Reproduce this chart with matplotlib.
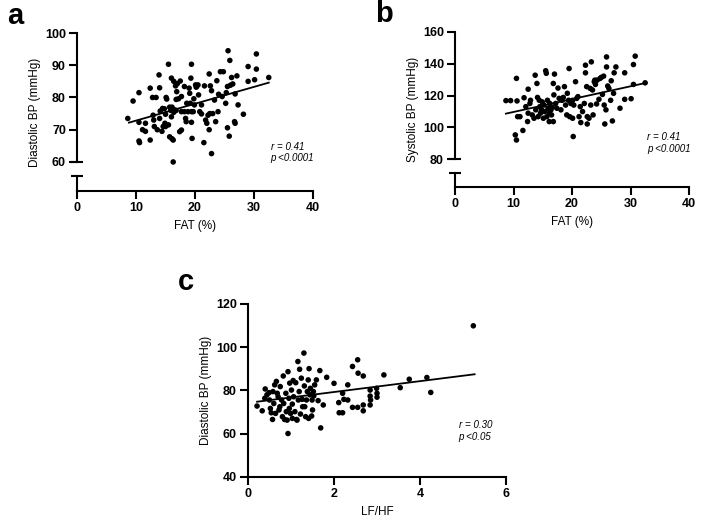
import matplotlib
matplotlib.use('Agg')
import matplotlib.pyplot as plt
import numpy as np

plt.rcParams['font.family'] = ['Liberation Sans', 'DejaVu Sans']

# panel a: body fat vs diastolic BP
fat_a = [8.6, 9.5, 10.5, 10.5, 10.5, 10.6, 11.1, 11.6, 11.6, 12.4, 12.4, 12.8, 12.9, 13.1,
         13.4, 13.6, 13.9, 14.0, 14.0, 14.1, 14.4, 14.5, 14.6, 14.9, 15.0, 15.1, 15.2, 15.5,
         15.7, 15.7, 15.9, 16.0, 16.1, 16.1, 16.3, 16.3, 16.4, 16.4, 16.5, 16.7, 16.8, 16.9,
         17.0, 17.2, 17.4, 17.5, 17.7, 17.7, 18.2, 18.4, 18.6, 18.8, 19.0, 19.1, 19.2, 19.3,
         19.4, 19.4, 19.5, 19.7, 19.8, 19.9, 20.1, 20.2, 20.5, 20.6, 20.8, 21.1, 21.1, 21.5,
         21.6, 21.8, 22.0, 22.2, 22.4, 22.4, 22.6, 22.8, 22.8, 23.0, 23.3, 23.5, 23.7, 23.9,
         24.0, 24.3, 24.6, 24.8, 25.2, 25.3, 25.5, 25.5, 25.6, 25.8, 25.9, 26.0, 26.2, 26.4,
         26.7, 26.8, 26.8, 27.1, 27.3, 28.2, 29.0, 29.0, 30.1, 30.4, 30.4, 32.5,
         16.8, 17.7, 18.2, 18.5, 19.4, 15.0, 15.5, 16.0, 13.0, 14.8, 20.3, 22.5]
dbp_a = [73.5, 78.9, 81.5, 72.3, 66.5, 66.0, 70.0, 69.5, 72.0, 82.9, 66.8, 80.0, 74.5, 71.0,
         80.0, 70.0, 87.0, 83.0, 73.5, 75.8, 69.5, 76.6, 71.0, 72.0, 74.8, 80.0, 79.5, 90.3,
         77.0, 67.8, 76.0, 86.0, 67.2, 77.0, 60.0, 66.8, 85.0, 75.4, 76.2, 83.6, 79.4, 81.8,
         84.3, 79.6, 69.4, 85.1, 69.9, 80.3, 83.4, 73.5, 78.2, 75.6, 82.9, 81.3, 78.2, 86.0,
         72.3, 90.3, 67.3, 75.6, 79.6, 77.7, 83.9, 83.2, 83.9, 80.8, 75.6, 77.7, 74.9, 66.0,
         83.6, 73.0, 72.0, 74.5, 87.3, 70.0, 83.6, 82.1, 62.6, 75.0, 79.2, 72.5, 85.2, 75.6,
         81.0, 88.0, 80.3, 88.0, 78.2, 81.5, 83.4, 70.6, 94.5, 68.0, 91.5, 83.8, 86.2, 84.2,
         72.5, 72.0, 81.1, 86.7, 77.7, 74.8, 89.6, 85.0, 85.5, 93.5, 88.8, 86.2,
         76.0, 75.6, 75.6, 72.5, 75.6, 71.0, 71.5, 74.0, 73.0, 76.5, 83.5, 75.0]
fit_a_x = [8.8, 32.5]
fit_a_y = [72.2, 84.6]

# panel b: body fat vs systolic BP
fat_b = [8.7, 9.5, 10.3, 10.5, 10.5, 10.6, 10.7, 11.1, 11.6, 11.8, 12.1, 12.4, 12.5, 12.5,
         12.8, 12.9, 13.2, 13.5, 13.7, 13.8, 14.0, 14.1, 14.2, 14.4, 14.5, 14.6, 14.8, 14.9,
         15.1, 15.2, 15.3, 15.5, 15.6, 15.7, 15.8, 15.9, 16.1, 16.1, 16.2, 16.4, 16.5, 16.6,
         16.8, 16.8, 16.9, 17.0, 17.2, 17.4, 17.6, 17.8, 18.1, 18.3, 18.5, 18.7, 18.9, 19.1,
         19.2, 19.4, 19.5, 19.6, 19.8, 20.1, 20.1, 20.2, 20.3, 20.6, 20.8, 21.0, 21.2, 21.4,
         21.5, 21.8, 22.1, 22.3, 22.3, 22.5, 22.6, 22.6, 22.9, 23.1, 23.2, 23.3, 23.5, 23.6,
         23.8, 23.9, 24.0, 24.2, 24.3, 24.6, 24.8, 25.0, 25.2, 25.4, 25.5, 25.6, 25.8, 25.9,
         25.9, 26.1, 26.3, 26.6, 26.7, 26.9, 27.1, 27.2, 27.5, 28.2, 29.0, 29.0, 30.1, 30.5,
         30.5, 30.8, 32.5]
sbp_b = [116.8, 116.8, 95.2, 92.0, 130.8, 116.6, 106.7, 106.7, 98.0, 118.6, 113.0, 103.6,
         124.0, 108.9, 115.0, 117.0, 107.8, 105.7, 132.8, 111.0, 127.6, 118.8, 106.7, 117.0,
         113.0, 108.9, 111.0, 116.0, 105.7, 114.0, 109.9, 135.6, 134.0, 106.7, 117.0, 112.0,
         108.9, 103.6, 115.0, 111.0, 107.8, 112.6, 103.6, 127.6, 120.4, 133.5, 115.0, 112.0,
         124.7, 118.2, 111.0, 117.0, 118.8, 125.6, 114.0, 107.8, 121.4, 117.0, 137.0, 106.7,
         115.0, 117.0, 105.7, 94.2, 114.0, 128.7, 118.2, 119.3, 106.7, 113.0, 103.0, 109.9,
         115.0, 139.1, 134.3, 125.6, 106.7, 102.1, 105.7, 124.5, 114.0, 141.2, 123.5, 107.8,
         128.7, 129.7, 127.0, 114.7, 129.7, 117.6, 130.8, 131.4, 120.7, 132.2, 114.0, 102.1,
         111.0, 144.3, 138.0, 126.0, 124.5, 117.0, 129.3, 104.0, 121.4, 134.3, 138.0, 112.0,
         134.3, 117.6, 118.0, 139.5, 127.0, 144.8, 128.0]
fit_b_x = [8.7, 32.7]
fit_b_y = [108.6, 128.0]

# panel c: LF/HF ratio vs diastolic BP
lfhf_c = [0.21, 0.33, 0.39, 0.40, 0.44, 0.49, 0.50, 0.52, 0.54, 0.57, 0.58, 0.60, 0.62, 0.64,
          0.66, 0.68, 0.70, 0.72, 0.74, 0.75, 0.78, 0.80, 0.82, 0.83, 0.85, 0.88, 0.89, 0.91,
          0.93, 0.93, 0.95, 0.96, 0.97, 0.99, 1.01, 1.03, 1.03, 1.05, 1.06, 1.09, 1.11, 1.13,
          1.14, 1.16, 1.17, 1.19, 1.20, 1.22, 1.24, 1.26, 1.27, 1.30, 1.31, 1.32, 1.34, 1.36,
          1.38, 1.40, 1.41, 1.42, 1.44, 1.45, 1.48, 1.49, 1.50, 1.52, 1.53, 1.55, 1.59, 1.63,
          1.67, 1.69, 1.75, 1.83, 2.00, 2.11, 2.12, 2.20, 2.20, 2.23, 2.32, 2.32, 2.43, 2.43,
          2.55, 2.55, 2.56, 2.68, 2.68, 2.68, 2.84, 2.84, 2.84, 2.85, 2.99, 3.00, 3.00, 3.16,
          3.54, 3.75, 4.16, 4.25, 5.24]
dbp_c = [72.8, 70.6, 76.4, 80.7, 78.0, 79.0, 75.6, 71.7, 69.7, 66.6, 79.5, 74.0, 82.6, 69.4,
         84.2, 78.7, 77.1, 71.0, 72.5, 81.8, 75.6, 67.9, 86.7, 74.0, 66.6, 78.7, 70.2, 66.3,
         88.7, 60.1, 76.4, 71.7, 83.4, 69.4, 80.2, 73.7, 67.1, 84.6, 77.1, 70.2, 83.6, 66.6,
         66.3, 93.4, 75.6, 79.5, 89.8, 69.1, 85.7, 75.9, 72.5, 97.3, 82.1, 72.5, 67.9, 75.6,
         79.5, 84.9, 67.1, 90.1, 78.0, 81.0, 68.2, 75.6, 71.0, 79.5, 77.5, 82.6, 84.9, 75.3,
         89.2, 62.7, 73.3, 86.1, 83.3, 74.4, 69.7, 78.7, 69.7, 75.9, 82.6, 75.6, 91.1, 72.2,
         94.2, 72.2, 88.0, 86.7, 70.6, 73.3, 77.4, 73.3, 80.2, 75.6, 81.0, 76.9, 78.7, 87.2,
         81.3, 85.2, 86.0, 79.1, 109.9]
fit_c_x = [0.21, 5.27]
fit_c_y = [74.8, 87.5]

fig = plt.figure(figsize=(7.08, 5.28), dpi=100)

LW = 1.5


def style_axes(ax):
    for s in ['top', 'right']:
        ax.spines[s].set_visible(False)
    for s in ['left', 'bottom']:
        ax.spines[s].set_linewidth(LW)
    ax.tick_params(direction='out', length=6, width=LW, pad=2)
    for lab in ax.get_xticklabels() + ax.get_yticklabels():
        lab.set_fontsize(9)
        lab.set_fontweight('bold')


def scatter_panel(ax, x, y, fx, fy):
    ax.scatter(x, y, s=16, color='black', edgecolors='none', zorder=3, clip_on=False)
    ax.plot(fx, fy, color='black', lw=1.3, zorder=2)


def break_axis(ax, ymin, ycap, ylow):
    # short axis stub below the break, capped with a tick
    ax.spines['left'].set_bounds(ylow, ax.get_ylim()[1])
    ax.plot([0, 0], [ymin, ycap], color='black', lw=LW, clip_on=False, zorder=4)
    ax.plot(0, ycap, marker='_', markersize=9, mew=LW, color='black', clip_on=False, zorder=4)
    ax.plot(0, ylow, marker='_', markersize=9, mew=LW, color='black', clip_on=False, zorder=4)


# ---- a ----
ax1 = fig.add_axes([0.1088, 0.6383, 0.3333, 0.2992])
scatter_panel(ax1, fat_a, dbp_a, fit_a_x, fit_a_y)
ax1.set_xlim(0, 40)
ax1.set_ylim(51, 100)
ax1.set_xticks([0, 10, 20, 30, 40])
ax1.set_yticks([60, 70, 80, 90, 100])
break_axis(ax1, 51, 55.7, 60)
ax1.set_xlabel('FAT (%)', fontsize=8.5, labelpad=4)
ax1.set_ylabel('Diastolic BP (mmHg)', fontsize=8.5, labelpad=3)
ax1.text(32.8, 64.7, 'r = 0.41', fontsize=7, style='italic', va='center')
ax1.text(32.8, 61.2, 'p <0.0001', fontsize=7, style='italic', va='center')
style_axes(ax1)

# ---- b ----
ax2 = fig.add_axes([0.6427, 0.6458, 0.3305, 0.2936])
scatter_panel(ax2, fat_b, sbp_b, fit_b_x, fit_b_y)
ax2.set_xlim(0, 40)
ax2.set_ylim(62.4, 160)
ax2.set_xticks([0, 10, 20, 30, 40])
ax2.set_yticks([80, 100, 120, 140, 160])
break_axis(ax2, 62.4, 71.2, 80)
ax2.set_xlabel('FAT (%)', fontsize=8.5, labelpad=4)
ax2.set_ylabel('Systolic BP (mmHg)', fontsize=8.5, labelpad=3)
ax2.text(32.9, 93.8, 'r = 0.41', fontsize=7, style='italic', va='center')
ax2.text(32.9, 86.5, 'p <0.0001', fontsize=7, style='italic', va='center')
style_axes(ax2)

# ---- c ----
ax3 = fig.add_axes([0.3503, 0.0966, 0.3644, 0.3277])
scatter_panel(ax3, lfhf_c, dbp_c, fit_c_x, fit_c_y)
ax3.set_xlim(0, 6)
ax3.set_ylim(40, 120)
ax3.set_xticks([0, 2, 4, 6])
ax3.set_yticks([40, 60, 80, 100, 120])
ax3.set_xlabel('LF/HF', fontsize=8.5, labelpad=4)
ax3.set_ylabel('Diastolic BP (mmHg)', fontsize=8.5, labelpad=3)
ax3.text(4.9, 64.0, 'r = 0.30', fontsize=7, style='italic', va='center')
ax3.text(4.9, 58.3, 'p <0.05', fontsize=7, style='italic', va='center')
style_axes(ax3)

# panel letters
fig.text(15 / 708, 1 - 16 / 528, 'a', fontsize=21, fontweight='bold', ha='center', va='center')
fig.text(384 / 708, 1 - 14 / 528, 'b', fontsize=21, fontweight='bold', ha='center', va='center')
fig.text(186 / 708, 1 - 282 / 528, 'c', fontsize=21, fontweight='bold', ha='center', va='center')

fig.savefig('out.png', dpi=100)
